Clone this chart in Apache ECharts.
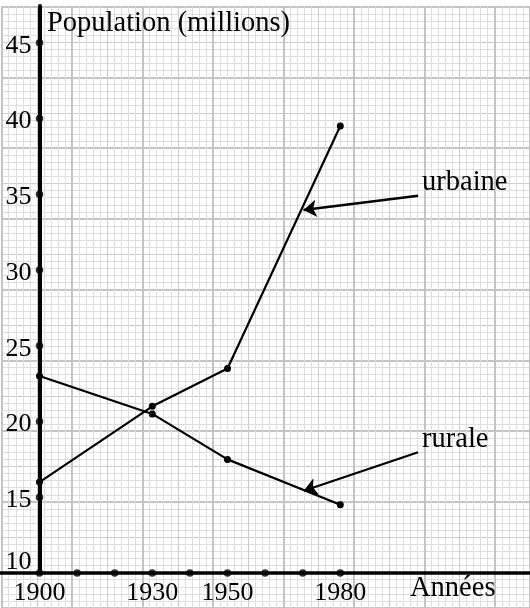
<!DOCTYPE html>
<html>
<head>
<meta charset="utf-8">
<script src="https://cdn.jsdelivr.net/npm/echarts@6/dist/echarts.min.js"></script>
<style>html,body{margin:0;padding:0;background:#fff}#c{width:530px;height:608px}</style>
</head>
<body>
<div id="c"></div>
<script>
// ---- data ----
const years = [1900, 1930, 1950, 1980];
const urbaine = [16, 21, 23.5, 39.5];
const rurale = [23, 20.5, 17.5, 14.5];
const xTickLabels = [1900, 1930, 1950, 1980];
const xTickDots = [1900, 1910, 1920, 1930, 1940, 1950, 1960, 1970, 1980];
const yTickLabels = [10, 15, 20, 25, 30, 35, 40, 45];
const yTickDots = [15, 20, 25, 30, 35, 40, 45];
const urbaineArrow = [[2000.7, 34.9], [1970.2, 33.96]];
const ruraleArrow = [[2000.7, 17.97], [1970.3, 15.43]];

// ---- layout ----
const FONT = 'Liberation Serif';
const FS = 26, FSW = 28.5;
const pxYear = 3.76, x0px = 39.5;
const pxUnit = 15.15;
const gridTop = 6, gridBottom = 35;
const xMin = 1900 - x0px / pxYear, xMax = xMin + 530 / pxYear;
const yMin = 10, yMax = 10 + (608 - gridTop - gridBottom) / pxUnit;
const cell = 75.333, half = cell / 2;
const bgW = half * 15, bgH = half * 17;

const chart = echarts.init(document.getElementById('c'));
const hidden = {axisLine:{show:false}, axisTick:{show:false}, axisLabel:{show:false}};
function bgAxis(grid, interval, split, minor, inverse, max) {
  const a = Object.assign({type:'value', gridIndex:grid, min:0, max:max, interval:interval, inverse:inverse,
    splitLine:split}, hidden);
  if (minor) { a.minorTick = {show:false, splitNumber:5}; a.minorSplitLine = minor; }
  return a;
}
const midSplit = {show:true, lineStyle:{color:'#cccccc', width:1}};
const minorSplit = {show:true, lineStyle:{color:'#dedede', width:1}};
const majorSplit = {show:true, lineStyle:{color:'#c4c4c4', width:2}};

const option = {
  animation: false,
  backgroundColor: '#fff',
  grid: [
    {left:1.7, top:6.7, width:bgW, height:bgH},
    {left:1.7, top:6.7, width:bgW, height:bgH},
    {left:0, right:0, top:gridTop, bottom:gridBottom}
  ],
  xAxis: [
    bgAxis(0, half, midSplit, minorSplit, false, bgW),
    bgAxis(1, cell, majorSplit, null, false, bgW),
    {type:'value', gridIndex:2, min:xMin, max:xMax,
     axisLine:{show:true, onZero:false, lineStyle:{color:'#000', width:3.5}},
     axisTick:{show:false}, splitLine:{show:false},
     axisLabel:{customValues:xTickLabels, formatter: v => String(v),
       color:'#000', fontFamily:FONT, fontSize:FS, margin:7}}
  ],
  yAxis: [
    bgAxis(0, half, midSplit, minorSplit, true, bgH),
    bgAxis(1, cell, majorSplit, null, true, bgH),
    {type:'value', gridIndex:2, min:yMin, max:yMax, offset:-x0px,
     axisLine:{show:true, onZero:false, lineStyle:{color:'#000', width:4}},
     axisTick:{show:false}, splitLine:{show:false},
     axisLabel:{customValues:yTickLabels, margin:8,
       formatter: v => v === 10 ? '{lo|10}' : '{n|' + v + '}',
       rich:{
         n:{color:'#000', fontFamily:FONT, fontSize:FS, padding:[6,0,0,0]},
         lo:{color:'#000', fontFamily:FONT, fontSize:FS, padding:[0,0,22,0]}
       }}}
  ],
  series: [
    {type:'line', name:'urbaine', xAxisIndex:2, yAxisIndex:2, clip:false,
     data: years.map((y,i)=>[y, urbaine[i]]), symbol:'circle', symbolSize:7, showSymbol:true,
     lineStyle:{color:'#000', width:2.2}, itemStyle:{color:'#000'}},
    {type:'line', name:'rurale', xAxisIndex:2, yAxisIndex:2, clip:false,
     data: years.map((y,i)=>[y, rurale[i]]), symbol:'circle', symbolSize:7, showSymbol:true,
     lineStyle:{color:'#000', width:2.2}, itemStyle:{color:'#000'}},
    {type:'scatter', xAxisIndex:2, yAxisIndex:2, clip:false, symbolSize:7.5, itemStyle:{color:'#000'},
     data: xTickDots.map(y=>[y, yMin])},
    {type:'scatter', xAxisIndex:2, yAxisIndex:2, clip:false, symbolSize:7.5, itemStyle:{color:'#000'},
     data: yTickDots.map(v=>[1900, v])},
    {type:'lines', coordinateSystem:'cartesian2d', xAxisIndex:2, yAxisIndex:2,
     symbol:['none','arrow'], symbolSize:[9,13],
     lineStyle:{color:'#000', width:2.3, opacity:1}, itemStyle:{color:'#000'},
     data:[{coords:urbaineArrow}, {coords:ruraleArrow}]}
  ],
  graphic: [
    {type:'text', z:100, left:47, top:9, style:{text:'Population (millions)', fontFamily:FONT, fontSize:FSW, fill:'#000'}},
    {type:'text', z:100, left:410, top:574, style:{text:'Années', fontFamily:FONT, fontSize:FSW, fill:'#000'}},
    {type:'text', z:100, left:422, top:168, style:{text:'urbaine', fontFamily:FONT, fontSize:FSW, fill:'#000'}},
    {type:'text', z:100, left:422, top:425, style:{text:'rurale', fontFamily:FONT, fontSize:FSW, fill:'#000'}}
  ]
};
chart.setOption(option);
</script>
</body>
</html>
